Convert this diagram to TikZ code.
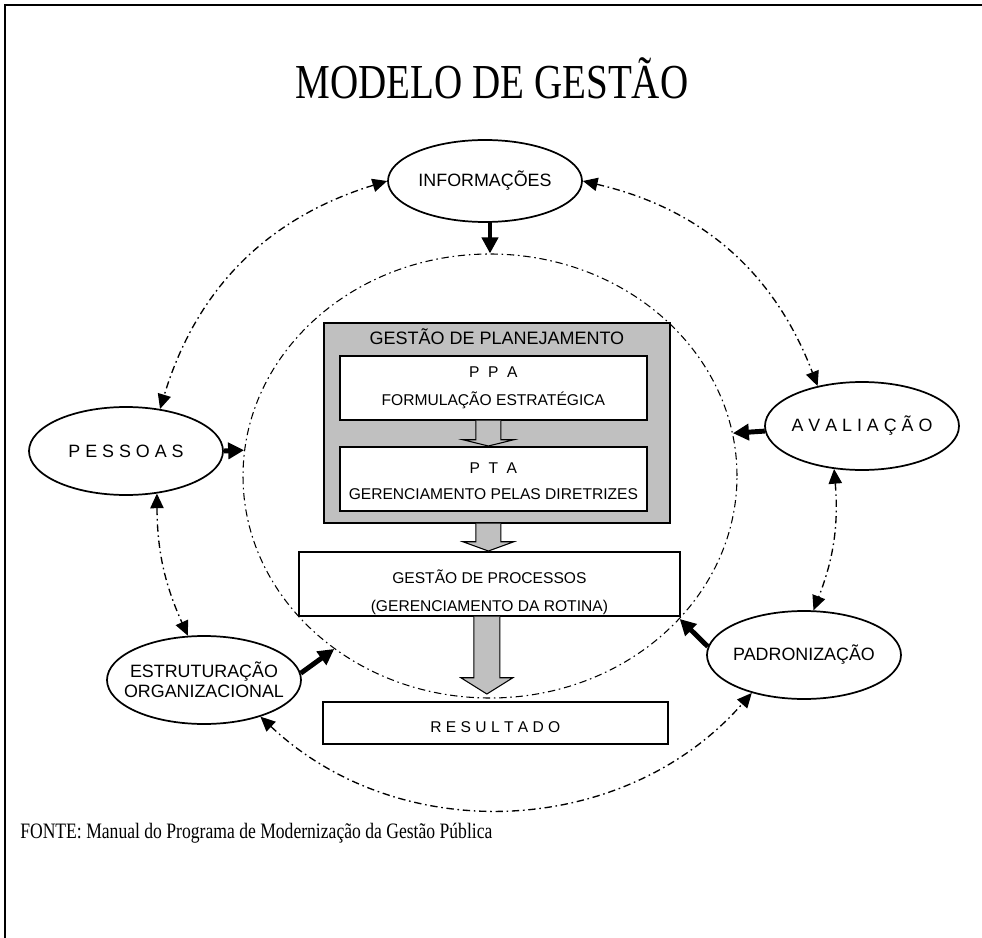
\documentclass[tikz,border=0pt]{standalone}
\usepackage{fontspec}
\usepackage{graphicx}
\setmainfont{Liberation Serif}
\newfontfamily\arial{Liberation Sans}
\usetikzlibrary{arrows.meta,shapes.geometric,calc}
\definecolor{boxgray}{HTML}{C0C0C0}
\begin{document}
\begin{tikzpicture}[x=0.75pt,y=0.75pt,
  oval/.style={draw, ellipse, line width=1.3pt, fill=white, inner sep=0pt, minimum width=145.5pt, minimum height=66pt},
  etxt/.style={font=\arial\fontsize{13.4}{15}\selectfont, align=center, inner sep=0pt},
  btxt/.style={font=\arial\fontsize{11.7}{21}\selectfont, align=center, inner sep=0pt},
  wbox/.style={draw, line width=1.3pt, fill=white, rectangle, inner sep=0pt, anchor=north west},
  dd/.style={line width=1pt, dash pattern=on 5.5pt off 2.8pt on 1.2pt off 2.8pt},
  ddarr/.style={dd, {Triangle[length=11pt,width=10pt]}-{Triangle[length=11pt,width=10pt]}},
  fat/.style={line width=3.7pt, -{Triangle[length=12pt,width=12pt]}},
  hollow/.style={draw, fill=boxgray, line width=0.8pt, line join=miter}
]
\useasboundingbox (0,0) rectangle (982,-938);
% frame
\draw[line width=1.5pt] (982,-5) -- (5,-5) -- (5,-938);

% title
\node[inner sep=0pt] (title) at (492,-78) {\scalebox{1}[1.25]{\fontsize{29.3}{34}\selectfont MODELO DE GESTÃO}};

% inner cycle
\node[draw, ellipse, dd, line width=0.8pt, minimum width=370.5pt, minimum height=333pt, inner sep=0pt] (cyc) at (490,-476) {};

% ellipses
\node[oval, minimum height=61.5pt] (info) at (485,-181) {};
\node[oval] (pes) at (126,-451) {};
\node[oval] (aval) at (862,-426) {};
\node[oval] (est) at (204,-680) {};
\node[oval] (pad) at (804,-655) {};
\node[etxt] (infot) at (info) {INFORMAÇÕES};
\node[etxt] (pest) at (pes) {P E S S O A S};
\node[etxt] (avalt) at (aval) {A V A L I A Ç Ã O};
\node[etxt] (estt) at (est) {ESTRUTURAÇÃO\\ORGANIZACIONAL};
\node[etxt] (padt) at (pad) {PADRONIZAÇÃO};

% boxes
\node[wbox, fill=boxgray, minimum width=259.5pt, minimum height=150pt] (plan) at (323,-322) {};
\node[wbox, minimum width=230.25pt, minimum height=48pt] (ppa) at (339,-355) {};
\node[wbox, minimum width=230.25pt, minimum height=48pt] (pta) at (339,-446) {};
\node[wbox, minimum width=285.75pt, minimum height=48pt] (proc) at (298,-551) {};
\node[wbox, minimum width=258.75pt, minimum height=31.5pt] (res) at (322,-701) {};

\node[btxt, font=\arial\fontsize{13.5}{16}\selectfont] (plant) at ($(plan.north)+(0,-15)$) {GESTÃO DE PLANEJAMENTO};
\node[btxt] (ppat) at (ppa) {P\hspace{0.55em}P\hspace{0.55em}A\\FORMULAÇÃO ESTRATÉGICA};
\node[btxt, font=\arial\fontsize{11.7}{19.5}\selectfont] (ptat) at ($(pta)+(0,-2)$) {P\hspace{0.55em}T\hspace{0.55em}A\\GERENCIAMENTO PELAS DIRETRIZES};
\node[btxt] (proct) at ($(proc)+(0,-8)$) {GESTÃO DE PROCESSOS\\(GERENCIAMENTO DA ROTINA)};
\node[btxt] (rest) at ($(res)+(0,-4)$) {R E S U L T A D O};

% hollow arrows between boxes
\path[hollow] ($(ppa.south)+(-17.5,0)$) -- ++(0,-19) -- ++(-13,0) -- ($(pta.north)+(-5,0)$)
  -- ($(ppa.south)+(20.5,-19)$) -- ++(-13,0) -- ++(0,19);
\path[hollow] ($(plan.south)+(-21,0)$) -- ++(0,-18) -- ++(-13,0) -- ($(proc.north)+(-1,0)$)
  -- ($(plan.south)+(17,-18)$) -- ++(-13,0) -- ++(0,18);
\path[hollow] ($(proc.south)+(-15.5,0)$) -- ++(0,-61) -- ++(-13,0) -- ($(res.north)+(-8.5,7)$)
  -- ($(proc.south)+(23.5,-61)$) -- ++(-13,0) -- ++(0,61);

% thick arrows into the cycle
\draw[fat] (info.south -| cyc.north) -- (cyc.north);
\draw[fat] (pes.east) -- (cyc.174);
\draw[fat] (aval.183) -- (cyc.10);
\draw[fat] (est.4) -- (cyc.-132);
\draw[fat] (pad.175) -- (cyc.-37);

% outer dash-dot connectors
\draw[ddarr] (info.west) to[bend right=28] (pes.51);
\draw[ddarr] (info.east) to[bend left=28] (aval.138);
\draw[ddarr] (pes.-54) to[bend right=12] (est.110);
\draw[ddarr] (aval.-123) to[bend left=13] (pad.78);
\draw[ddarr] (est.-33) to[bend right=46] (pad.-144);

% source
\node[anchor=west, inner sep=0pt] (fonte) at (20,-833) {\scalebox{1}[1.25]{\fontsize{13.2}{15}\selectfont FONTE: Manual do Programa de Modernização da Gestão Pública}};
\end{tikzpicture}
\end{document}
